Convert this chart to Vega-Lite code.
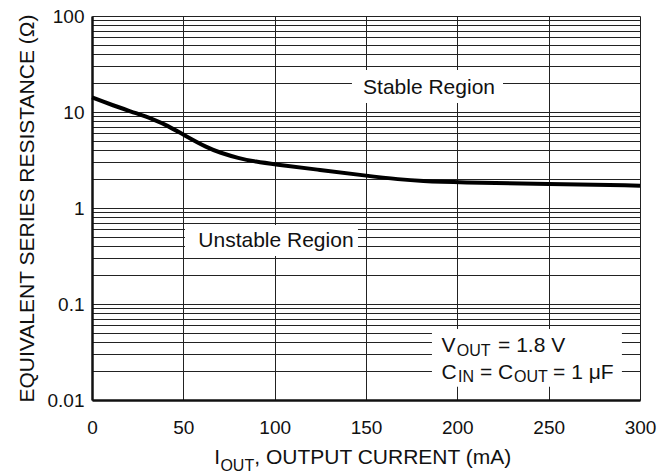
{
  "$schema": "https://vega.github.io/schema/vega-lite/v6.json",
  "width": 548,
  "height": 384,
  "autosize": {"type": "none"},
  "padding": {"left": 92, "top": 16, "right": 22, "bottom": 73},
  "background": "white",
  "config": {
    "view": {"stroke": null},
    "font": "Liberation Sans",
    "axis": {
      "labelFont": "Liberation Sans",
      "titleFont": "Liberation Sans",
      "labelColor": "#111",
      "titleColor": "#111",
      "gridColor": "#222",
      "gridOpacity": 1,
      "gridWidth": 1,
      "domainColor": "#111",
      "domainWidth": 2.5,
      "ticks": false,
      "labelOverlap": false
    }
  },
  "datasets": {
    "boxes": [
      {"x": 142.3, "x2": 225.0, "y": 27.4, "y2": 12.4},
      {"x": 50.9, "x2": 145.6, "y": 0.665, "y2": 0.316},
      {"x": 186.1, "x2": 290.1, "y": 0.0549, "y2": 0.01377}
    ],
    "curve": [
      {"x": 0, "y": 14.2},
      {"x": 11, "y": 11.8},
      {"x": 25, "y": 9.6},
      {"x": 33.4, "y": 8.4},
      {"x": 41.5, "y": 7.2},
      {"x": 50, "y": 5.8},
      {"x": 63.5, "y": 4.2},
      {"x": 70, "y": 3.78},
      {"x": 80, "y": 3.3},
      {"x": 90, "y": 3.03},
      {"x": 99, "y": 2.87},
      {"x": 125, "y": 2.49},
      {"x": 150, "y": 2.17},
      {"x": 168.6, "y": 1.98},
      {"x": 180, "y": 1.91},
      {"x": 200, "y": 1.85},
      {"x": 250, "y": 1.78},
      {"x": 300, "y": 1.71}
    ],
    "mainText": [
      {"x": 148.4, "y": 15.4, "text": "Stable Region"},
      {"x": 58.2, "y": 0.39, "text": "Unstable Region"},
      {"x": 191.4, "y": 0.0314, "text": "V"},
      {"x": 222.3, "y": 0.0314, "text": "= 1.8 V"},
      {"x": 191.4, "y": 0.01656, "text": "C"},
      {"x": 212.4, "y": 0.01656, "text": "="},
      {"x": 222.3, "y": 0.01656, "text": "C"},
      {"x": 252.4, "y": 0.01656, "text": "= 1 μF"},
      {"x": 66.9, "y": 0.00214, "text": "I"},
      {"x": 88.8, "y": 0.00214, "text": ", OUTPUT CURRENT (mA)"}
    ],
    "subText": [
      {"x": 199.7, "y": 0.0289, "text": "OUT"},
      {"x": 200.4, "y": 0.01528, "text": "IN"},
      {"x": 231.0, "y": 0.01528, "text": "OUT"},
      {"x": 70.3, "y": 0.00182, "text": "OUT"}
    ]
  },
  "layer": [
    {
      "data": {"name": "boxes"},
      "mark": {"type": "rect", "fill": "white", "strokeWidth": 0},
      "encoding": {
        "x": {
          "field": "x",
          "type": "quantitative",
          "scale": {"domain": [0, 300], "nice": false, "zero": false},
          "axis": {
            "title": null,
            "values": [0, 50, 100, 150, 200, 250, 300],
            "grid": true,
            "labelFontSize": 19,
            "labelPadding": 18,
            "labelFlush": false
          }
        },
        "x2": {"field": "x2"},
        "y": {
          "field": "y",
          "type": "quantitative",
          "scale": {"type": "log", "domain": [0.01, 100], "nice": false},
          "axis": {
            "title": "EQUIVALENT SERIES RESISTANCE (Ω)",
            "titleFontSize": 21,
            "titleFontWeight": "normal",
            "titlePadding": 10,
            "values": [0.01, 0.02, 0.03, 0.04, 0.05, 0.06, 0.07, 0.08, 0.09, 0.1, 0.2, 0.3, 0.4, 0.5, 0.6, 0.7, 0.8, 0.9, 1, 2, 3, 4, 5, 6, 7, 8, 9, 10, 20, 30, 40, 50, 60, 70, 80, 90, 100],
            "labelExpr": "datum.value == 0.01 ? '0.01' : datum.value == 0.1 ? '0.1' : datum.value == 1 ? '1' : datum.value == 10 ? '10' : datum.value == 100 ? '100' : ''",
            "grid": true,
            "labelFontSize": 19,
            "labelPadding": 8
          }
        },
        "y2": {"field": "y2"}
      }
    },
    {
      "data": {"name": "curve"},
      "mark": {"type": "line", "color": "black", "strokeWidth": 4, "interpolate": "basis"},
      "encoding": {
        "x": {"field": "x", "type": "quantitative"},
        "y": {"field": "y", "type": "quantitative"}
      }
    },
    {
      "data": {"name": "mainText"},
      "mark": {"type": "text", "align": "left", "baseline": "alphabetic", "fontSize": 21, "font": "Liberation Sans", "color": "#111"},
      "encoding": {
        "x": {"field": "x", "type": "quantitative"},
        "y": {"field": "y", "type": "quantitative"},
        "text": {"field": "text"}
      }
    },
    {
      "data": {"name": "subText"},
      "mark": {"type": "text", "align": "left", "baseline": "alphabetic", "fontSize": 16, "font": "Liberation Sans", "color": "#111"},
      "encoding": {
        "x": {"field": "x", "type": "quantitative"},
        "y": {"field": "y", "type": "quantitative"},
        "text": {"field": "text"}
      }
    }
  ]
}
